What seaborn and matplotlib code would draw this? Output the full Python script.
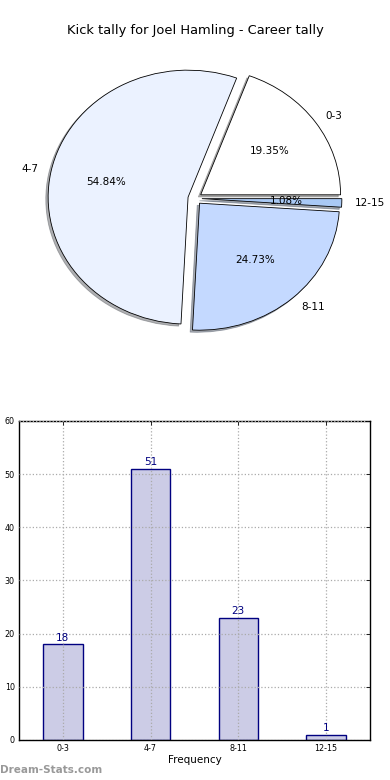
import matplotlib
matplotlib.use("Agg")
import matplotlib.pyplot as plt
import seaborn as sns
import pandas as pd

# kick tally data
ranges = ['0-3', '4-7', '8-11', '12-15']
counts = [18, 51, 23, 1]
pie_colors = ['#ffffff', '#ebf2ff', '#c4d9ff', '#a9c9f5']

sns.set_style("white")
plt.rcParams['font.family'] = ['DejaVu Sans']
plt.rcParams['text.color'] = 'black'
plt.rcParams['xtick.color'] = 'black'
plt.rcParams['ytick.color'] = 'black'
plt.rcParams['axes.labelcolor'] = 'black'

fig = plt.figure(figsize=(3.9, 7.8), dpi=100)

# pie (elliptical like the old matplotlib output)
ax1 = fig.add_axes([0.0513, 0.5421, 0.897, 0.407])
wedges, texts, autotexts = ax1.pie(
    counts, labels=ranges, colors=pie_colors, explode=[0.05] * len(counts),
    autopct='%1.2f%%', shadow={'ox': -0.012, 'oy': -0.012, 'shade': 0.6},
    startangle=0, labeldistance=1.09,
    wedgeprops={'edgecolor': 'black', 'linewidth': 0.6},
    textprops={'fontsize': 7.5, 'color': 'black'})
ax1.set_aspect('auto')
ax1.set_xlim(-1.25, 1.25)
ax1.set_ylim(-1.25, 1.25)
fig.text(0.5, 0.961, 'Kick tally for Joel Hamling - Career tally',
         ha='center', va='center', fontsize=9.4)

# bar chart
df = pd.DataFrame({'range': ranges, 'count': counts})
ax2 = fig.add_axes([0.0487, 0.0513, 0.9, 0.409])
sns.barplot(data=df, x='range', y='count', ax=ax2, width=0.45,
            color='#ccccE6', saturation=1, edgecolor='navy', linewidth=1)
for c in ax2.containers:
    ax2.bar_label(c, color='navy', fontsize=7.5, padding=1)
ax2.set_xlim(-0.5, 3.5)
ax2.set_ylim(0, 60)
ax2.set_yticks(range(0, 61, 10))
ax2.grid(True, linestyle=':', color='#aaaaaa', linewidth=0.9)
ax2.set_axisbelow(False)
for b in ax2.patches:
    b.set_zorder(0.5)
ax2.tick_params(labelsize=5.8, direction='in', top=True, right=True,
                length=3, width=0.6, pad=3)
ax2.set_xlabel('Frequency', fontsize=7.5, labelpad=1)
ax2.set_ylabel('')
for s in ax2.spines.values():
    s.set_color('black')
    s.set_linewidth(1)

fig.text(0.0, 0.013, 'Dream-Stats.com', color='#999999', fontsize=7.5,
         fontweight='bold', ha='left', va='center')

fig.savefig('out.png', dpi=100)
